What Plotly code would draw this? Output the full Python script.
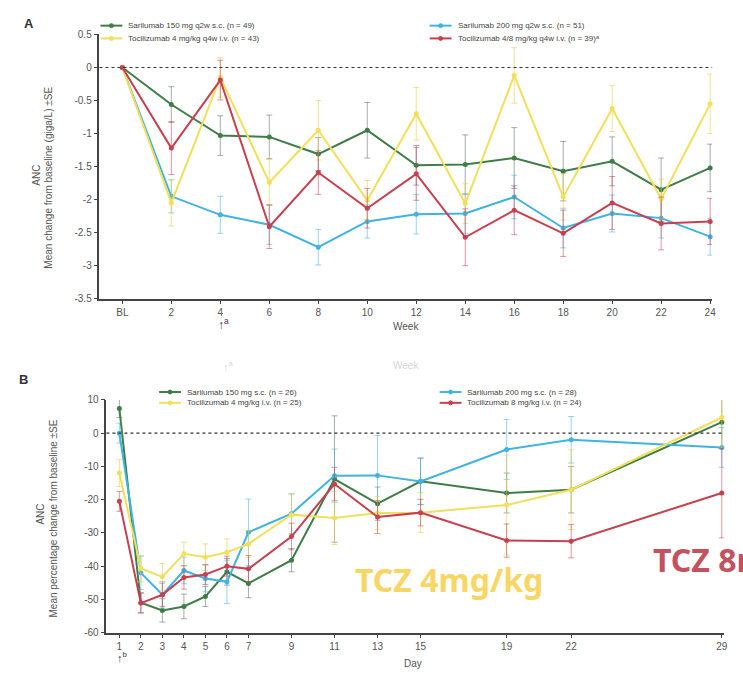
import plotly.graph_objects as go

W, H = 743, 677

# ---------------- Data: Panel A (ANC mean change from baseline, giga/L) ----------------
weeks = [0, 2, 4, 6, 8, 10, 12, 14, 16, 18, 20, 22, 24]
week_labels = ["BL", "2", "4", "6", "8", "10", "12", "14", "16", "18", "20", "22", "24"]

a_sari150 = [0, -0.56, -1.03, -1.05, -1.31, -0.95, -1.48, -1.47, -1.37, -1.57, -1.42, -1.85, -1.52]
a_sari150_se = [0, 0.27, 0.30, 0.33, 0.25, 0.42, 0.30, 0.45, 0.46, 0.45, 0.37, 0.48, 0.36]
a_sari200 = [0, -1.95, -2.23, -2.38, -2.72, -2.33, -2.22, -2.21, -1.96, -2.43, -2.21, -2.28, -2.56]
a_sari200_se = [0, 0.25, 0.28, 0.30, 0.27, 0.25, 0.30, 0.30, 0.33, 0.30, 0.28, 0.30, 0.28]
a_toci4 = [0, -2.05, -0.15, -1.74, -0.95, -2.01, -0.70, -2.06, -0.12, -1.96, -0.62, -1.99, -0.55]
a_toci4_se = [0, 0.35, 0.30, 0.35, 0.45, 0.30, 0.40, 0.30, 0.42, 0.35, 0.35, 0.30, 0.45]
a_toci48 = [0, -1.22, -0.19, -2.41, -1.59, -2.13, -1.61, -2.57, -2.16, -2.51, -2.05, -2.36, -2.33]
a_toci48_se = [0, 0.40, 0.30, 0.33, 0.33, 0.30, 0.40, 0.43, 0.37, 0.35, 0.40, 0.40, 0.35]

a_names = ["Sarilumab 150 mg q2w s.c. (n = 49)", "Sarilumab 200 mg q2w s.c. (n = 51)",
           "Tocilizumab 4 mg/kg q4w i.v. (n = 43)", "Tocilizumab 4/8 mg/kg q4w i.v. (n = 39)ᵃ"]
a_yticks = [-3.5, -3, -2.5, -2, -1.5, -1, -0.5, 0, 0.5]

# ---------------- Data: Panel B (ANC mean percentage change from baseline) ----------------
days = [1, 2, 3, 4, 5, 6, 7, 9, 11, 13, 15, 19, 22, 29]
b_sari150 = [7.4, -51.0, -53.3, -52.1, -49.1, -41.7, -45.2, -38.2, -13.8, -21.2, -14.5, -18.0, -17.0, 3.3]
b_sari150_se = [2.7, 3, 3.5, 3.7, 3, 4, 4.3, 3.5, 19, 5, 7, 6, 7, 8]
b_sari200 = [0, -42.0, -48.6, -41.3, -43.7, -44.7, -29.8, -24.2, -12.8, -12.7, -14.5, -4.9, -2.0, -4.3]
b_sari200_se = [3, 5, 4, 4, 4, 6.5, 10, 6, 8, 12, 7, 9, 7, 6]
b_toci4 = [-12, -40.7, -43.2, -36.3, -37.3, -35.8, -33.3, -24.5, -25.5, -24.0, -23.9, -21.6, -17.0, 4.7]
b_toci4_se = [4, 4, 4, 3.5, 4, 4, 4, 6, 8, 5, 6, 15, 12, 9]
b_toci8 = [-20.5, -51.1, -48.6, -43.4, -42.5, -40.0, -40.8, -31.1, -15.3, -25.2, -23.9, -32.3, -32.5, -18.0]
b_toci8_se = [3, 3, 3.5, 3.5, 3, 3, 4, 4, 5, 5, 4, 5, 5, 13.5]

b_names = ["Sarilumab 150 mg s.c. (n = 26)", "Sarilumab 200 mg s.c. (n = 28)",
           "Tocilizumab 4 mg/kg i.v. (n = 25)", "Tocilizumab 8 mg/kg i.v. (n = 24)"]
b_yticks = [-60, -50, -40, -30, -20, -10, 0, 10]

# ---------------- Styling ----------------
colors = ["#3e7d46", "#3fb3e2", "#f2df5a", "#c8404f"]
err_colors = ["rgba(90,110,95,0.55)", "rgba(63,179,226,0.55)", "rgba(230,205,70,0.6)", "rgba(200,64,79,0.55)"]
FONT = "Liberation Sans, Arial, sans-serif"
AX = "#444444"
TXT = "#555555"


def px(x):
    return x / W


def py(y):
    return 1 - y / H


fig = go.Figure()

a_series = [(a_sari150, a_sari150_se), (a_sari200, a_sari200_se), (a_toci4, a_toci4_se), (a_toci48, a_toci48_se)]
b_series = [(b_sari150, b_sari150_se), (b_sari200, b_sari200_se), (b_toci4, b_toci4_se), (b_toci8, b_toci8_se)]

for i, (vals, se) in enumerate(a_series):
    fig.add_trace(go.Scatter(
        x=weeks, y=vals, name=a_names[i], mode="lines+markers",
        line=dict(color=colors[i], width=2), marker=dict(color=colors[i], size=5),
        error_y=dict(type="data", array=se, color=err_colors[i], thickness=1, width=3),
        xaxis="x", yaxis="y", showlegend=False, cliponaxis=False))

for i, (vals, se) in enumerate(b_series):
    fig.add_trace(go.Scatter(
        x=days, y=vals, name=b_names[i], mode="lines+markers",
        line=dict(color=colors[i], width=2), marker=dict(color=colors[i], size=5),
        error_y=dict(type="data", array=se, color=err_colors[i], thickness=1, width=3),
        xaxis="x2", yaxis="y2", showlegend=False, cliponaxis=False))

axis_common = dict(showline=True, linecolor=AX, linewidth=1.5, ticks="outside", ticklen=4,
                   tickcolor=AX, tickwidth=1, showgrid=False, zeroline=False,
                   tickfont=dict(family=FONT, size=10, color=TXT))

# Panel A axes
a_x0, a_x1 = 100, 716
a_slope = (714 - 123) / 24
fig.update_layout(
    xaxis=dict(domain=[px(a_x0), px(a_x1)], anchor="y",
               range=[0 - (123 - a_x0) / a_slope, 24 + (a_x1 - 714) / a_slope],
               tickvals=weeks, ticktext=week_labels, **axis_common),
    yaxis=dict(domain=[py(298), py(29)], anchor="x", range=[-3.5, 0.5],
               tickvals=a_yticks, ticktext=[f"{v:g}" for v in a_yticks], **axis_common),
)

# Panel B axes
b_x0, b_x1 = 107, 728
b_slope = (725.7 - 120) / 28
fig.update_layout(
    xaxis2=dict(domain=[px(b_x0), px(b_x1)], anchor="y2",
                range=[1 - (120 - b_x0) / b_slope, 29 + (b_x1 - 725.7) / b_slope],
                tickvals=days, ticktext=[str(d) for d in days], **axis_common),
    yaxis2=dict(domain=[py(638), py(401)], anchor="x2", range=[-60, 10],
                tickvals=b_yticks, ticktext=[str(v) for v in b_yticks], **axis_common),
)

shapes = []
# dotted zero lines
shapes.append(dict(type="line", xref="x domain", yref="y", x0=0, x1=1, y0=0, y1=0,
                   line=dict(color="#333", width=1.2, dash="dot")))
shapes.append(dict(type="line", xref="x2 domain", yref="y2", x0=0, x1=1, y0=0, y1=0,
                   line=dict(color="#333", width=1.2, dash="dot")))

annotations = []


def legend_entry(x, y, color, text):
    shapes.append(dict(type="line", xref="paper", yref="paper", x0=px(x), x1=px(x + 22),
                       y0=py(y), y1=py(y), line=dict(color=color, width=2)))
    shapes.append(dict(type="circle", xref="paper", yref="paper", x0=px(x + 9), x1=px(x + 13),
                       y0=py(y + 2), y1=py(y - 2), fillcolor=color, line=dict(color=color, width=1)))
    annotations.append(dict(xref="paper", yref="paper", x=px(x + 26), y=py(y), text=text,
                            showarrow=False, xanchor="left", yanchor="middle",
                            font=dict(family=FONT, size=8, color="#444")))


# Panel A legend (2 x 2)
legend_entry(101, 20, colors[0], a_names[0])
legend_entry(101, 33, colors[2], a_names[2])
legend_entry(432, 20, colors[1], a_names[1])
legend_entry(432, 33, colors[3], a_names[3])
# Panel B legend
legend_entry(160, 393, colors[0], b_names[0])
legend_entry(160, 404, colors[2], b_names[2])
legend_entry(442, 393, colors[1], b_names[1])
legend_entry(442, 404, colors[3], b_names[3])


def txt(x, y, text, size=10, color=TXT, angle=0, bold=False, xanchor="center", family=FONT):
    annotations.append(dict(xref="paper", yref="paper", x=px(x), y=py(y), text=text,
                            showarrow=False, xanchor=xanchor, yanchor="middle", textangle=angle,
                            font=dict(family=family, size=size, color=color,
                                      weight=700 if bold else 400)))


# panel letters
txt(29, 18, "A", size=13, color="#333", bold=True)
txt(24, 380, "B", size=13, color="#333", bold=True)

# axis titles
txt(37, 172, "ANC", size=10, angle=-90)
txt(49, 175, "Mean change from baseline (giga/L) ±SE", size=10, angle=-90)
txt(408, 326, "Week", size=10)
txt(225, 324, "<b>↑</b><sup>a</sup>", size=12, color="#333")

txt(41, 517, "ANC", size=10, angle=-90)
txt(54, 522, "Mean percentage change from baseline ±SE", size=10, angle=-90)
txt(415, 669, "Day", size=10)
txt(123, 663, "<b>↑</b><sup>b</sup>", size=11, color="#333")

# faint ghost artifacts between panels
txt(230, 366, "↑<sup>a</sup>", size=11, color="#d6d6d6")
txt(408, 366, "Week", size=10, color="#d6d6d6")

# overlay labels
txt(355, 584, "TCZ 4mg/kg", size=32, color="#f7d664", xanchor="left", family="Noto Sans, sans-serif", bold=True)
txt(655, 563, "TCZ 8mg/kg", size=32, color="#c4525e", xanchor="left", family="Noto Sans, sans-serif", bold=True)

fig.update_layout(
    width=W, height=H, margin=dict(l=0, r=0, t=0, b=0),
    paper_bgcolor="white", plot_bgcolor="white",
    shapes=shapes, annotations=annotations, showlegend=False,
)

fig.write_html("out.html")
